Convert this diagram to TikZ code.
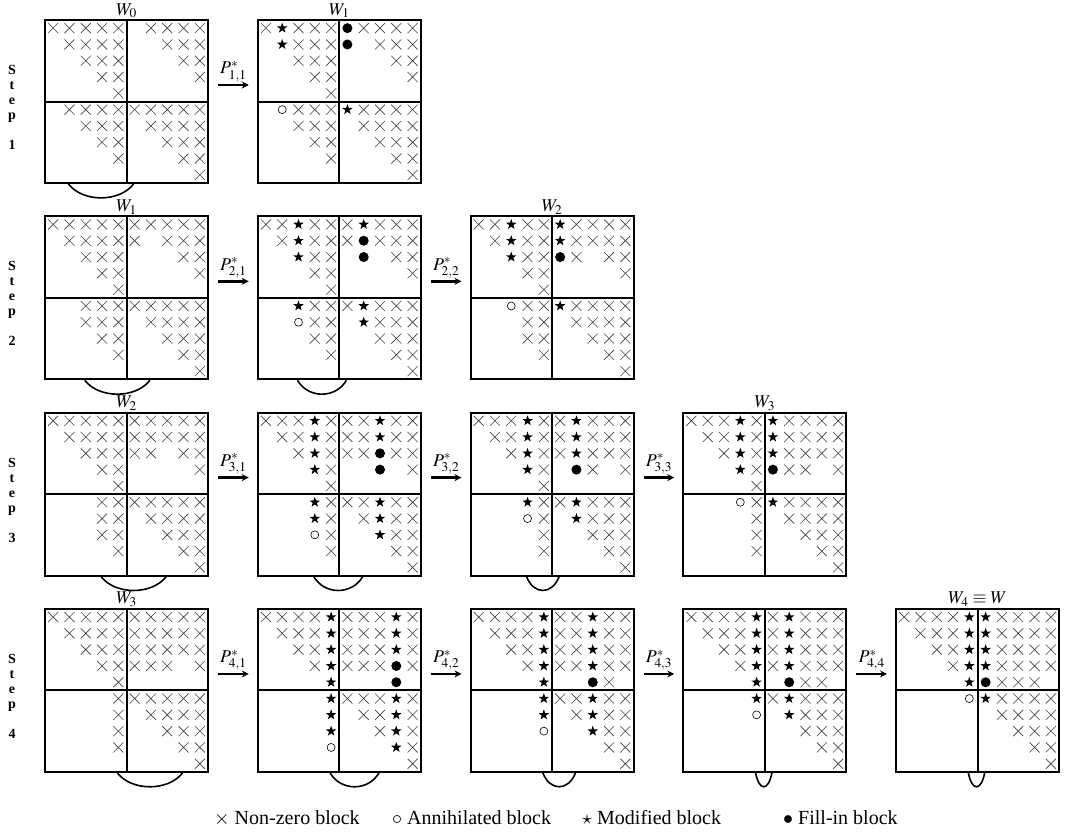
\documentclass[tikz,border=0pt]{standalone}
\usepackage{mathptmx}
\usepackage[no-math]{fontspec}
\setmainfont{Liberation Serif}
\usetikzlibrary{shapes.geometric,shapes.misc,arrows.meta,calc}

\newcount\cc
\def\mrowloop#1{\ifx#1\relax\else\advance\cc by 1\relax\msym#1\expandafter\mrowloop\fi}
\def\msym#1{%
  \pgfmathsetmacro\cx{\mox+(\the\cc-0.5)*16.3}%
  \pgfmathsetmacro\cy{\moy+(\mri-0.5)*16.3}%
  \ifx#1x\node[crs] (\mname-\mri-\the\cc) at (\cx,\cy) {};
    \draw[crsline] (\cx-5,\cy-5) -- (\cx+5,\cy+5) (\cx-5,\cy+5) -- (\cx+5,\cy-5);\fi
  \ifx#1s\node[stsym] (\mname-\mri-\the\cc) at (\cx,\cy) {};\fi
  \ifx#1o\node[cirsym] (\mname-\mri-\the\cc) at (\cx,\cy) {};\fi
  \ifx#1f\node[dotsym] (\mname-\mri-\the\cc) at (\cx,\cy) {};\fi
}
% #1 name, #2 left, #3 top, #4 rows
\newcommand\mymat[4]{%
  \node[matbox] (#1) at (#2+81.5,#3+81.5) {};
  \draw[mline] (#1.north) -- (#1.south) (#1.west) -- (#1.east);
  \def\mname{#1}\def\mox{#2}\def\moy{#3}%
  \foreach \r [count=\i] in {#4} {\edef\mri{\i}\cc=0 \expandafter\mrowloop\r\relax}%
}
\newcommand\myarc[3]{%
  \draw[arcline] ($(#1.south west)+({(#2-0.5)*16.3},0)$)
    .. controls +({(#3-#2)*16.3*0.22},18.5) and +({-(#3-#2)*16.3*0.22},18.5) ..
    ($(#1.south west)+({(#3-0.5)*16.3},0)$);
}
\newcommand\myarrow[3]{%
  \draw[parrow] ($(#1.north east)+(9,66)$) coordinate (#1-out) -- node[plabel]{#3} ($(#2.north west)+(-8,66)$) coordinate (#2-in);
}
\newcommand\wlabel[2]{\node[wlab] (#1-lab) at ($(#1.north)+(0,-4)$) {#2};}

\tikzset{
  matbox/.style={draw, line width=2pt, minimum width=163pt, minimum height=163pt, inner sep=0pt},
  mline/.style={line width=2pt},
  crs/.style={rectangle, minimum size=10pt, inner sep=0pt},
  crsline/.style={line width=0.6pt, draw=black!75},
  stsym/.style={star, star points=5, star point ratio=2.5, fill=black, minimum size=11pt, inner sep=0pt},
  cirsym/.style={circle, draw, line width=0.6pt, minimum size=8pt, inner sep=0pt},
  dotsym/.style={circle, fill=black, minimum size=10pt, inner sep=0pt},
  arcline/.style={line width=1.6pt},
  parrow/.style={line width=2.8pt, -{Stealth[length=7pt,width=7pt]}},
  plabel/.style={above=2pt, inner sep=0pt, font=\fontsize{18}{20}\selectfont},
  wlab/.style={anchor=base, inner sep=0pt, font=\fontsize{18}{20}\selectfont},
  steplab/.style={align=center, inner sep=0pt, font=\bfseries\fontsize{14}{15}\selectfont},
  legend/.style={anchor=west, inner sep=0pt, font=\fontsize{20}{22}\selectfont},
}

\begin{document}
\begin{tikzpicture}[x=1pt,y=-1pt]
\useasboundingbox (0,0) rectangle (1071,833);

% ---------- Step 1
\mymat{m11}{45}{20}{xxxxx-xxxx,-xxxx--xxx,--xxx---xx,---xx----x,----x-----,-xxxxxxxxx,--xxx-xxxx,---xx--xxx,----x---xx,---------x}
\mymat{m12}{257.75}{20}{xsxxxfxxxx,-sxxxf-xxx,--xxx---xx,---xx----x,----x-----,-oxxxsxxxx,--xxx-xxxx,---xx--xxx,----x---xx,---------x}
% ---------- Step 2
\mymat{m21}{45}{216.3}{xxxxxxxxxx,-xxxxx-xxx,--xxx---xx,---xx----x,----x-----,--xxxxxxxx,--xxx-xxxx,---xx--xxx,----x---xx,---------x}
\mymat{m22}{257.75}{216.3}{xxsxxxsxxx,-xsxxxfxxx,--sxx-f-xx,---xx----x,----x-----,--sxxxsxxx,--oxx-sxxx,---xx--xxx,----x---xx,---------x}
\mymat{m23}{470.5}{216.3}{xxsxxsxxxx,-xsxxsxxxx,--sxxfx-xx,---xx----x,----x-----,--oxxsxxxx,---xx-xxxx,---xx--xxx,----x---xx,---------x}
% ---------- Step 3
\mymat{m31}{45}{412.6}{xxxxxxxxxx,-xxxxxxxxx,--xxxxx-xx,---xx----x,----x-----,---xxxxxxx,---xx-xxxx,---xx--xxx,----x---xx,---------x}
\mymat{m32}{257.75}{412.6}{xxxsxxxsxx,-xxsxxxsxx,--xsxxxfxx,---sx--f-x,----x-----,---sxxxsxx,---sx-xsxx,---ox--sxx,----x---xx,---------x}
\mymat{m33}{470.5}{412.6}{xxxsxxsxxx,-xxsxxsxxx,--xsxxsxxx,---sx-fx-x,----x-----,---sxxsxxx,---ox-sxxx,----x--xxx,----x---xx,---------x}
\mymat{m34}{683.25}{412.6}{xxxsxsxxxx,-xxsxsxxxx,--xsxsxxxx,---sxfxx-x,----x-----,---oxsxxxx,----x-xxxx,----x--xxx,----x---xx,---------x}
% ---------- Step 4
\mymat{m41}{45}{608.9}{xxxxxxxxxx,-xxxxxxxxx,--xxxxxxxx,---xxxxx-x,----x-----,----xxxxxx,----x-xxxx,----x--xxx,----x---xx,---------x}
\mymat{m42}{257.75}{608.9}{xxxxsxxxsx,-xxxsxxxsx,--xxsxxxsx,---xsxxxfx,----s---f-,----sxxxsx,----s-xxsx,----s--xsx,----o---sx,---------x}
\mymat{m43}{470.5}{608.9}{xxxxsxxsxx,-xxxsxxsxx,--xxsxxsxx,---xsxxsxx,----s--fx-,----sxxsxx,----s-xsxx,----o--sxx,--------xx,---------x}
\mymat{m44}{683.25}{608.9}{xxxxsxsxxx,-xxxsxsxxx,--xxsxsxxx,---xsxsxxx,----s-fxx-,----sxsxxx,----o-sxxx,-------xxx,--------xx,---------x}
\mymat{m45}{896}{608.9}{xxxxssxxxx,-xxxssxxxx,--xxssxxxx,---xssxxxx,----sfxxx-,----osxxxx,------xxxx,-------xxx,--------xx,---------x}

% ---------- labels W
\wlabel{m11}{$W_0$}
\wlabel{m12}{$W_1$}
\wlabel{m21}{$W_1$}
\wlabel{m23}{$W_2$}
\wlabel{m31}{$W_2$}
\wlabel{m34}{$W_3$}
\wlabel{m41}{$W_3$}
\wlabel{m45}{$W_4\equiv W$}

% ---------- arrows
\myarrow{m11}{m12}{$P^*_{1,1}$}
\myarrow{m21}{m22}{$P^*_{2,1}$}
\myarrow{m22}{m23}{$P^*_{2,2}$}
\myarrow{m31}{m32}{$P^*_{3,1}$}
\myarrow{m32}{m33}{$P^*_{3,2}$}
\myarrow{m33}{m34}{$P^*_{3,3}$}
\myarrow{m41}{m42}{$P^*_{4,1}$}
\myarrow{m42}{m43}{$P^*_{4,2}$}
\myarrow{m43}{m44}{$P^*_{4,3}$}
\myarrow{m44}{m45}{$P^*_{4,4}$}

% ---------- arcs
\myarc{m11}{2}{6}
\myarc{m21}{3}{7}
\myarc{m22}{3}{6}
\myarc{m31}{4}{8}
\myarc{m32}{4}{7}
\myarc{m33}{4}{6}
\myarc{m41}{5}{9}
\myarc{m42}{5}{8}
\myarc{m43}{5}{7}
\myarc{m44}{5}{6}
\myarc{m45}{5}{6}

% ---------- step labels
\node[steplab] (s1) at (12,107.5) {S\\t\\e\\p\\[15pt]1};
\node[steplab] (s2) at (12,303.8) {S\\t\\e\\p\\[15pt]2};
\node[steplab] (s3) at (12,500.1) {S\\t\\e\\p\\[15pt]3};
\node[steplab] (s4) at (12,696.4) {S\\t\\e\\p\\[15pt]4};

% ---------- legend
\node[legend] (lg1) at (214,818) {$\times$ Non-zero block};
\node[legend] (lg2) at (392,818) {$\circ$ Annihilated block};
\node[legend] (lg3) at (582,818) {$\star$ Modified block};
\node[legend] (lg4) at (783,818) {$\bullet$ Fill-in block};
\end{tikzpicture}
\end{document}
